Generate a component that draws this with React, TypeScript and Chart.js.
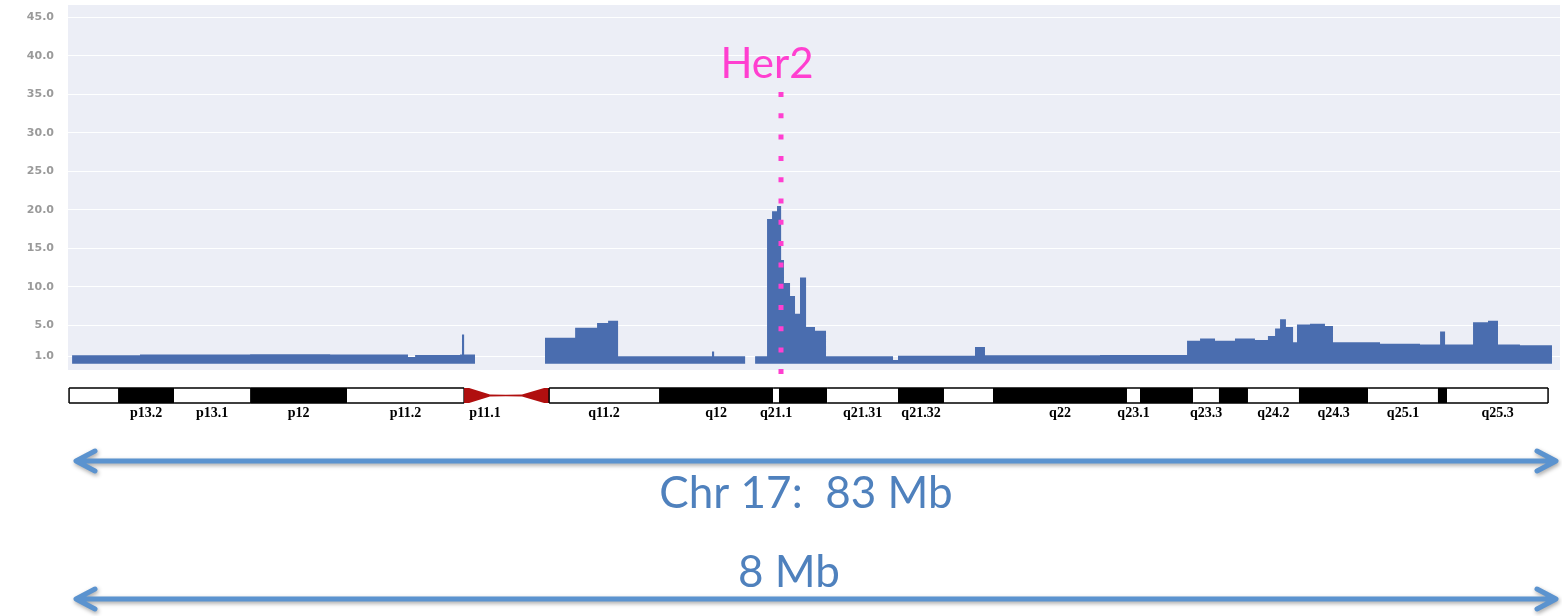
import React, { useEffect, useRef } from "react";
import { Chart, registerables } from "chart.js";

Chart.register(...registerables);

// Genomic position along chromosome 17 (Mb) where each copy-number step starts
const positionsMb = [
  0.17, 3.98, 10.16, 14.65, 19.02, 19.42, 21.94, 22.05, 22.17, 22.78,
  26.71, 28.4, 29.63, 30.25, 30.81, 36.08, 36.2, 37.94, 38.5,
  39.17, 39.45, 39.73, 39.96, 40.12, 40.46, 40.74, 41.02, 41.36, 41.86, 42.48,
  46.24, 46.52, 50.84, 51.4, 57.86,
  62.74, 63.47, 64.31, 65.43, 66.55, 67.28, 67.68, 67.96, 68.29, 68.69, 68.91,
  69.64, 70.48, 70.93, 73.57, 75.81, 76.94, 77.22, 78.79, 79.63, 80.19, 81.42, 83.22,
];
// Copy-number level held from each position until the next one
const copyNumber = [
  1.1, 1.2, 1.25, 1.2, 0.9, 1.15, 1.2, 3.8, 1.2, 0,
  3.4, 4.7, 5.3, 5.6, 1.0, 1.6, 1.0, 0, 1.0,
  18.8, 19.8, 20.5, 13.5, 10.5, 8.8, 6.5, 11.2, 4.8, 4.3, 1.0,
  0.5, 1.05, 2.2, 1.1, 1.15,
  3.0, 3.3, 3.0, 3.3, 3.1, 3.6, 4.6, 5.8, 4.8, 2.8, 5.1,
  5.2, 4.9, 2.8, 2.6, 2.5, 4.2, 2.5, 5.4, 5.6, 2.5, 2.4, 0,
];

const yTicks = [1, 5, 10, 15, 20, 25, 30, 35, 40, 45];

// Cytogenetic bands of chr17 (Mb)
const bandNames = [
  "p13.3", "p13.2", "p13.1", "p12", "p11.2", "p11.1", "q11.1", "q11.2", "q12",
  "q21.1", "q21.2", "q21.31", "q21.32", "q21.33", "q22", "q23.1", "q23.2",
  "q23.3", "q24.1", "q24.2", "q24.3", "q25.1", "q25.2", "q25.3",
];
const bandStart = [
  0, 2.75, 5.89, 10.16, 15.6, 22.17, 24.52, 26.94, 33.11, 39.51, 39.84, 42.54,
  46.52, 49.1, 51.85, 59.37, 60.1, 63.08, 64.53, 66.16, 69.02, 72.9, 76.82, 77.33,
];
const bandEnd = [
  2.75, 5.89, 10.16, 15.6, 22.17, 24.52, 26.94, 33.11, 39.51, 39.84, 42.54,
  46.52, 49.1, 51.85, 59.37, 60.1, 63.08, 64.53, 66.16, 69.02, 72.9, 76.82, 77.33, 83.0,
];
const bandStain = [
  "white", "black", "white", "black", "white", "acen", "acen", "white", "black",
  "white", "black", "white", "black", "white", "black", "white", "black",
  "white", "black", "white", "black", "white", "black", "white",
];
const bandLabelled = [
  false, true, true, true, true, true, false, true, true,
  true, false, true, true, false, true, true, false,
  true, false, true, true, true, false, true,
];

const her2Mb = 39.93;
const her2Label = "Her2";
const chrLabel = "Chr 17:  83 Mb";
const zoomLabel = "8 Mb";

const PLOT_BG = "#eceef6";
const FILL = "#4a6daf";
const PINK = "#ff3fd0";
const ARROW = "#5b93cf";
const TEXT_BLUE = "#4f81bd";

function drawArrow(ctx: CanvasRenderingContext2D, x0: number, x1: number, y: number) {
  ctx.save();
  ctx.strokeStyle = ARROW;
  ctx.lineWidth = 5;
  ctx.lineCap = "round";
  ctx.lineJoin = "round";
  ctx.shadowColor = "rgba(0,0,0,0.35)";
  ctx.shadowBlur = 4;
  ctx.shadowOffsetX = 1;
  ctx.shadowOffsetY = 2;
  ctx.beginPath();
  ctx.moveTo(x0 + 3, y);
  ctx.lineTo(x1 - 3, y);
  ctx.moveTo(x0 + 20, y - 10);
  ctx.lineTo(x0 + 1, y);
  ctx.lineTo(x0 + 20, y + 10);
  ctx.moveTo(x1 - 20, y - 10);
  ctx.lineTo(x1 - 1, y);
  ctx.lineTo(x1 - 20, y + 10);
  ctx.stroke();
  ctx.restore();
}

const overlayPlugin = {
  id: "overlay",
  beforeDraw(chart: any) {
    const { ctx, chartArea } = chart;
    ctx.save();
    ctx.fillStyle = PLOT_BG;
    ctx.fillRect(chartArea.left, chartArea.top, chartArea.right - chartArea.left, chartArea.bottom - chartArea.top);
    ctx.restore();
  },
  afterDatasetsDraw(chart: any) {
    const { ctx, chartArea, scales } = chart;
    const xs = scales.x;
    const hx = Math.round(xs.getPixelForValue(her2Mb));
    ctx.save();
    ctx.strokeStyle = PINK;
    ctx.lineWidth = 5;
    ctx.setLineDash([5, 16.3]);
    ctx.beginPath();
    ctx.moveTo(hx, 92);
    ctx.lineTo(hx, chartArea.bottom + 8);
    ctx.stroke();
    ctx.restore();

    ctx.save();
    ctx.fillStyle = PINK;
    ctx.font = "42px Lato";
    ctx.textAlign = "center";
    ctx.textBaseline = "alphabetic";
    ctx.fillText(her2Label, hx - 14, 78);
    ctx.restore();
  },
  afterDraw(chart: any) {
    const { ctx, chartArea, scales } = chart;
    const xs = scales.x;
    const top = chartArea.bottom + 18;
    const h = 15;
    const bottom = top + h;
    const cy = top + h / 2;

    ctx.save();
    for (let i = 0; i < bandNames.length; i++) {
      const x0 = xs.getPixelForValue(bandStart[i]);
      const x1 = xs.getPixelForValue(bandEnd[i]);
      const stain = bandStain[i];
      if (stain === "acen") {
        ctx.fillStyle = "#b00f0f";
        ctx.beginPath();
        if (bandNames[i].startsWith("p")) {
          ctx.moveTo(x0, top);
          ctx.lineTo(x0 + 5, top);
          ctx.lineTo(x1 - 16, cy - 1);
          ctx.lineTo(x1, cy - 0.7);
          ctx.lineTo(x1, cy + 0.7);
          ctx.lineTo(x1 - 16, cy + 1);
          ctx.lineTo(x0 + 5, bottom);
          ctx.lineTo(x0, bottom);
        } else {
          ctx.moveTo(x1, top);
          ctx.lineTo(x1 - 5, top);
          ctx.lineTo(x0 + 16, cy - 1);
          ctx.lineTo(x0, cy - 0.7);
          ctx.lineTo(x0, cy + 0.7);
          ctx.lineTo(x0 + 16, cy + 1);
          ctx.lineTo(x1 - 5, bottom);
          ctx.lineTo(x1, bottom);
        }
        ctx.closePath();
        ctx.fill();
      } else {
        ctx.fillStyle = stain === "black" ? "#000000" : "#ffffff";
        ctx.fillRect(x0, top, x1 - x0, h);
        ctx.strokeStyle = "#000000";
        ctx.lineWidth = 1.5;
        ctx.beginPath();
        ctx.moveTo(x0, top);
        ctx.lineTo(x1, top);
        ctx.moveTo(x0, bottom);
        ctx.lineTo(x1, bottom);
        ctx.stroke();
        const prevAcen = i > 0 && bandStain[i - 1] === "acen";
        const nextAcen = i < bandNames.length - 1 && bandStain[i + 1] === "acen";
        if (i === 0 || prevAcen) {
          ctx.beginPath();
          ctx.moveTo(x0, top);
          ctx.lineTo(x0, bottom);
          ctx.stroke();
        }
        if (i === bandNames.length - 1 || nextAcen) {
          ctx.beginPath();
          ctx.moveTo(x1, top);
          ctx.lineTo(x1, bottom);
          ctx.stroke();
        }
      }
      if (bandLabelled[i]) {
        ctx.fillStyle = "#000000";
        ctx.font = "bold 14px 'Liberation Serif'";
        ctx.textAlign = "center";
        ctx.textBaseline = "middle";
        ctx.fillText(bandNames[i], (x0 + x1) / 2, bottom + 10);
      }
    }
    ctx.restore();

    const ax0 = chartArea.left + 7;
    const ax1 = chartArea.right - 3;
    drawArrow(ctx, ax0, ax1, 461);
    drawArrow(ctx, ax0, ax1, 599);

    ctx.save();
    ctx.fillStyle = TEXT_BLUE;
    ctx.font = "44px Lato";
    ctx.textAlign = "center";
    ctx.textBaseline = "alphabetic";
    ctx.fillText(chrLabel, 806, 508);
    ctx.fillText(zoomLabel, 789, 587);
    ctx.restore();
  },
};

export default function App() {
  const canvasRef = useRef<HTMLCanvasElement | null>(null);

  useEffect(() => {
    if (!canvasRef.current) return;
    const points = positionsMb.map((x, i) => ({ x, y: copyNumber[i] }));
    const chart = new Chart(canvasRef.current, {
      type: "line",
      data: {
        datasets: [
          {
            data: points,
            stepped: true,
            fill: "origin",
            backgroundColor: FILL,
            borderColor: "rgba(0,0,0,0)",
            borderWidth: 0,
            pointRadius: 0,
            tension: 0,
          },
        ],
      },
      options: {
        animation: false,
        responsive: true,
        maintainAspectRatio: false,
        layout: { autoPadding: false, padding: { top: 5, right: 2, bottom: 246, left: 0 } },
        plugins: {
          legend: { display: false },
          tooltip: { enabled: false },
        },
        scales: {
          x: {
            type: "linear",
            min: -0.06,
            max: 83.67,
            display: false,
          },
          y: {
            type: "linear",
            min: -0.8,
            max: 46.6,
            afterBuildTicks: (scale: any) => {
              scale.ticks = yTicks.map((v) => ({ value: v }));
            },
            afterFit: (scale: any) => {
              scale.width = 68;
              scale.paddingTop = 0;
              scale.paddingBottom = 0;
            },
            border: { display: false },
            grid: {
              color: "rgba(255,255,255,0.95)",
              lineWidth: 1,
              drawTicks: false,
            },
            ticks: {
              padding: 14,
              color: "#9a9a9a",
              font: { size: 11, weight: "bold", family: "'DejaVu Sans'" },
              callback: (v: any) => Number(v).toFixed(1),
            },
          },
        },
      },
      plugins: [overlayPlugin],
    });
    return () => chart.destroy();
  }, []);

  return (
    <div style={{ position: "absolute", left: 0, top: 0, width: 1562, height: 616, background: "#ffffff" }}>
      <canvas ref={canvasRef} />
    </div>
  );
}
